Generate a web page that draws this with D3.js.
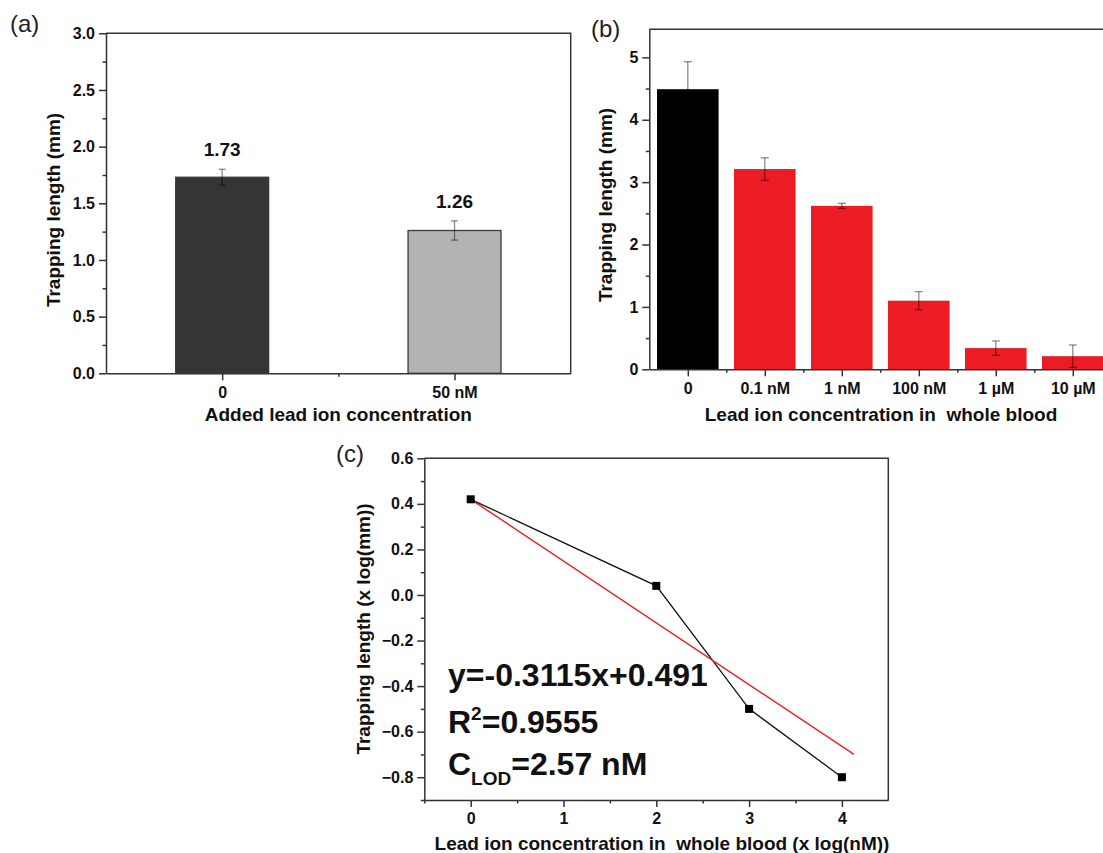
<!DOCTYPE html>
<html>
<head>
<meta charset="utf-8">
<script src="https://cdn.jsdelivr.net/npm/d3@7"></script>
<style>
body { margin: 0; background: #fff; }
text { font-family: Arial, "Liberation Sans", sans-serif; }
</style>
</head>
<body>
<div id="chart"></div>
<script>
// panel (a)
var catsA = ["0", "50 nM"];
var valsA = [1.73, 1.26];
var errA = [0.07, 0.085];
var labelsA = ["1.73", "1.26"];
var ticksA = [0, 0.5, 1.0, 1.5, 2.0, 2.5, 3.0];

// panel (b)
var catsB = ["0", "0.1 nM", "1 nM", "100 nM", "1 \u00b5M", "10 \u00b5M"];
var valsB = [4.49, 3.21, 2.62, 1.10, 0.34, 0.21];
var errB = [0.44, 0.18, 0.04, 0.145, 0.115, 0.18];
var ticksB = [0, 1, 2, 3, 4, 5];

// panel (c)
var logC = [0, 2, 3, 4];
var lenC = [0.42, 0.04, -0.50, -0.80];
var fitX = [0, 4.13];
var fitY = [0.42, -0.70];
var ticksCx = [0, 1, 2, 3, 4];
var ticksCy = [0.6, 0.4, 0.2, 0.0, -0.2, -0.4, -0.6, -0.8];

function styleAxis(g) {
    g.select(".domain").attr("stroke", "#333").attr("stroke-width", 1.5);
    g.selectAll(".tick line").attr("stroke", "#333").attr("stroke-width", 1.5);
    g.selectAll(".tick text").attr("font-size", "16px").attr("font-weight", "bold").attr("fill", "#111");
}

function frame(svg, x, y) {
    var x0 = x.range()[0], x1 = x.range()[1], y0 = y.range()[0], y1 = y.range()[1];
    svg.append("path")
        .attr("d", "M" + x0 + "," + y1 + "H" + x1 + "V" + y0)
        .attr("fill", "none")
        .attr("stroke", "#333")
        .attr("stroke-width", 1.5);
}

function minor(svg, axisFn, scale, vals, transform) {
    svg.append("g")
        .attr("transform", transform)
        .call(axisFn(scale).tickValues(vals).tickSize(3.5).tickFormat(""))
        .call(function(g) {
            g.select(".domain").remove();
            g.selectAll(".tick line").attr("stroke", "#333").attr("stroke-width", 1.5);
        });
}

function errorBars(svg, x, y, vals, errs, cap) {
    var g = svg.append("g").attr("stroke", "rgba(0,0,0,0.45)").attr("stroke-width", 1.3);
    vals.forEach(function(v, i) {
        g.append("line").attr("x1", x(i)).attr("x2", x(i)).attr("y1", y(v - errs[i])).attr("y2", y(v + errs[i]));
        g.append("line").attr("x1", x(i) - cap).attr("x2", x(i) + cap).attr("y1", y(v - errs[i])).attr("y2", y(v - errs[i]));
        g.append("line").attr("x1", x(i) - cap).attr("x2", x(i) + cap).attr("y1", y(v + errs[i])).attr("y2", y(v + errs[i]));
    });
}

function main() {
    var svg = d3.select("#chart").append("svg")
        .attr("width", 1103)
        .attr("height", 853);

    svg.append("rect").attr("width", 1103).attr("height", 853).attr("fill", "#fff");

    // ---------- (a) ----------
    var xA = d3.scaleLinear().domain([-0.5, 1.5]).range([106, 570.7]);
    var yA = d3.scaleLinear().domain([0, 3]).range([373.3, 33.3]);

    svg.selectAll(".barA")
        .data(valsA)
        .enter().append("rect")
        .attr("class", "barA")
        .attr("x", function(d, i) { return xA(i - 0.2); })
        .attr("y", function(d) { return yA(d); })
        .attr("width", xA(0.4) - xA(0))
        .attr("height", function(d) { return yA(0) - yA(d); })
        .attr("fill", function(d, i) { return i == 0 ? "#343537" : "#b3b3b3"; })
        .attr("stroke", "#3a3a3a")
        .attr("stroke-width", 1.3);

    errorBars(svg, xA, yA, valsA, errA, 3.5);

    svg.selectAll(".labA")
        .data(labelsA)
        .enter().append("text")
        .attr("class", "labA")
        .attr("x", function(d, i) { return xA(i); })
        .attr("y", function(d, i) { return yA(valsA[i] + errA[i]) - 13; })
        .attr("text-anchor", "middle")
        .attr("font-size", "19px")
        .attr("font-weight", "bold")
        .attr("fill", "#111")
        .text(function(d) { return d; });

    frame(svg, xA, yA);
    minor(svg, d3.axisLeft, yA, [0.25, 0.75, 1.25, 1.75, 2.25, 2.75], "translate(106,0)");
    minor(svg, d3.axisBottom, xA, [0.5], "translate(0,373.3)");

    svg.append("g")
        .attr("transform", "translate(106,0)")
        .call(d3.axisLeft(yA).tickValues(ticksA).tickSize(7).tickSizeOuter(0).tickPadding(4)
            .tickFormat(d3.format(".1f")))
        .call(styleAxis);

    svg.append("g")
        .attr("transform", "translate(0,373.3)")
        .call(d3.axisBottom(xA).tickValues([0, 1]).tickSize(7).tickSizeOuter(0).tickPadding(6)
            .tickFormat(function(d) { return catsA[d]; }))
        .call(styleAxis);

    svg.append("text")
        .attr("transform", "translate(60,210) rotate(-90)")
        .attr("text-anchor", "middle")
        .attr("font-size", "19px").attr("font-weight", "bold").attr("fill", "#111")
        .text("Trapping length (mm)");

    svg.append("text")
        .attr("x", xA(0.5)).attr("y", 421)
        .attr("text-anchor", "middle")
        .attr("font-size", "19px").attr("font-weight", "bold").attr("fill", "#111")
        .text("Added lead ion concentration");

    svg.append("text").attr("x", 10).attr("y", 32)
        .attr("font-size", "24px").attr("fill", "#222").text("(a)");

    // ---------- (b) ----------
    var xB = d3.scaleLinear().domain([-0.5, 5.5]).range([649.3, 1111.3]);
    var yB = d3.scaleLinear().domain([0, 5.45]).range([369.3, 29.3]);

    svg.selectAll(".barB")
        .data(valsB)
        .enter().append("rect")
        .attr("class", "barB")
        .attr("x", function(d, i) { return xB(i - 0.4); })
        .attr("y", function(d) { return yB(d); })
        .attr("width", xB(0.8) - xB(0))
        .attr("height", function(d) { return yB(0) - yB(d); })
        .attr("fill", function(d, i) { return i == 0 ? "#000" : "#ec1c24"; });

    errorBars(svg, xB, yB, valsB, errB, 4);

    frame(svg, xB, yB);
    minor(svg, d3.axisLeft, yB, [0.5, 1.5, 2.5, 3.5, 4.5], "translate(649.3,0)");
    minor(svg, d3.axisBottom, xB, [0.5, 1.5, 2.5, 3.5, 4.5], "translate(0,369.3)");

    svg.append("g")
        .attr("transform", "translate(649.3,0)")
        .call(d3.axisLeft(yB).tickValues(ticksB).tickSize(7).tickSizeOuter(0).tickPadding(4)
            .tickFormat(d3.format("d")))
        .call(styleAxis);

    svg.append("g")
        .attr("transform", "translate(0,369.3)")
        .call(d3.axisBottom(xB).tickValues(d3.range(catsB.length)).tickSize(7).tickSizeOuter(0).tickPadding(6)
            .tickFormat(function(d) { return catsB[d]; }))
        .call(styleAxis);

    svg.append("text")
        .attr("transform", "translate(612,205) rotate(-90)")
        .attr("text-anchor", "middle")
        .attr("font-size", "19px").attr("font-weight", "bold").attr("fill", "#111")
        .text("Trapping length (mm)");

    svg.append("text")
        .attr("x", 881).attr("y", 421)
        .attr("text-anchor", "middle")
        .attr("font-size", "19px").attr("font-weight", "bold").attr("fill", "#111")
        .style("white-space", "pre")
        .text("Lead ion concentration in  whole blood");

    svg.append("text").attr("x", 591).attr("y", 37)
        .attr("font-size", "24px").attr("fill", "#222").text("(b)");

    // ---------- (c) ----------
    var xC = d3.scaleLinear().domain([-0.5, 4.5]).range([424.3, 888.3]);
    var yC = d3.scaleLinear().domain([-0.9, 0.6]).range([800, 458.3]);

    frame(svg, xC, yC);
    minor(svg, d3.axisLeft, yC, [0.5, 0.3, 0.1, -0.1, -0.3, -0.5, -0.7, -0.9], "translate(424.3,0)");
    minor(svg, d3.axisBottom, xC, [-0.5, 0.5, 1.5, 2.5, 3.5], "translate(0,800)");

    svg.append("g")
        .attr("transform", "translate(424.3,0)")
        .call(d3.axisLeft(yC).tickValues(ticksCy).tickSize(7).tickSizeOuter(0).tickPadding(4)
            .tickFormat(d3.format(".1f")))
        .call(styleAxis);

    svg.append("g")
        .attr("transform", "translate(0,800)")
        .call(d3.axisBottom(xC).tickValues(ticksCx).tickSize(7).tickSizeOuter(0).tickPadding(6)
            .tickFormat(d3.format("d")))
        .call(styleAxis);

    var pts = logC.map(function(d, i) { return [d, lenC[i]]; });
    var fit = fitX.map(function(d, i) { return [d, fitY[i]]; });
    var line = d3.line().x(function(d) { return xC(d[0]); }).y(function(d) { return yC(d[1]); });

    svg.append("path").datum(pts).attr("d", line)
        .attr("fill", "none").attr("stroke", "#111").attr("stroke-width", 1.3);
    svg.append("path").datum(fit).attr("d", line)
        .attr("fill", "none").attr("stroke", "#e8262c").attr("stroke-width", 1.5);

    svg.selectAll(".ptC")
        .data(pts)
        .enter().append("rect")
        .attr("class", "ptC")
        .attr("x", function(d) { return xC(d[0]) - 4; })
        .attr("y", function(d) { return yC(d[1]) - 4; })
        .attr("width", 8).attr("height", 8)
        .attr("fill", "#000");

    var ann = svg.append("g").attr("font-size", "32px").attr("font-weight", "bold").attr("fill", "#111");
    ann.append("text").attr("x", 448).attr("y", 686).text("y=-0.3115x+0.491");
    var r2 = ann.append("text").attr("x", 448).attr("y", 733);
    r2.append("tspan").text("R");
    r2.append("tspan").attr("font-size", "19px").attr("dy", -13).text("2");
    r2.append("tspan").attr("dy", 13).text("=0.9555");
    var c = ann.append("text").attr("x", 448).attr("y", 775);
    c.append("tspan").text("C");
    c.append("tspan").attr("font-size", "19px").attr("dy", 10).text("LOD");
    c.append("tspan").attr("dy", -10).text("=2.57 nM");

    svg.append("text")
        .attr("transform", "translate(370,629) rotate(-90)")
        .attr("text-anchor", "middle")
        .attr("font-size", "19px").attr("font-weight", "bold").attr("fill", "#111")
        .text("Trapping length (x log(mm))");

    svg.append("text")
        .attr("x", 662).attr("y", 850)
        .attr("text-anchor", "middle")
        .attr("font-size", "19px").attr("font-weight", "bold").attr("fill", "#111")
        .style("white-space", "pre")
        .text("Lead ion concentration in  whole blood (x log(nM))");

    svg.append("text").attr("x", 336).attr("y", 462)
        .attr("font-size", "24px").attr("fill", "#222").text("(c)");
}

main();
</script>
</body>
</html>
